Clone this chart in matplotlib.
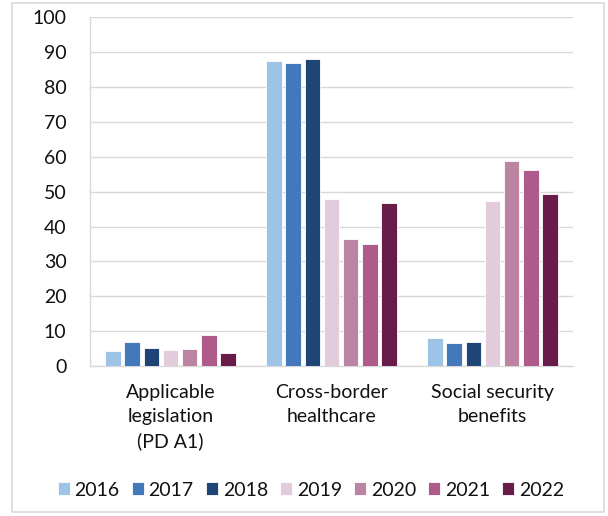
import matplotlib
matplotlib.use("Agg")
import matplotlib.pyplot as plt
from matplotlib.patches import Rectangle
import numpy as np

categories = ["Applicable\nlegislation\n(PD A1)", "Cross-border\nhealthcare", "Social security\nbenefits"]
years = ["2016", "2017", "2018", "2019", "2020", "2021", "2022"]
v2016 = [4.3, 87.6, 8.1]
v2017 = [6.8, 86.9, 6.6]
v2018 = [5.2, 87.9, 6.8]
v2019 = [4.7, 48.0, 47.2]
v2020 = [5.0, 36.4, 58.7]
v2021 = [8.9, 34.9, 56.2]
v2022 = [3.7, 46.8, 49.3]
series = [v2016, v2017, v2018, v2019, v2020, v2021, v2022]
colors = ["#9DC3E6", "#4379BB", "#1F4577", "#E2CCDC", "#BB84A3", "#AE5A8B", "#691B4A"]
yticks = [0, 10, 20, 30, 40, 50, 60, 70, 80, 90, 100]

plt.rcParams["font.family"] = ["Lato", "DejaVu Sans"]
FS = 14
txt_c = "#111111"
grid_c = "#D9D9D9"

fig = plt.figure(figsize=(6.08, 5.16), dpi=100)
ax = fig.add_axes([90 / 608, 1 - 366 / 516, 483 / 608, (366 - 17.3) / 516])

x = np.arange(len(categories))
step = 0.119
width = 0.097
for i, (vals, col, yr) in enumerate(zip(series, colors, years)):
    offs = (i - 3) * step
    ax.bar(x + offs, vals, width=width, color=col, edgecolor="white",
           linewidth=0.6, label=yr, zorder=3)

ax.set_xlim(-0.5, 2.5)
ax.set_ylim(0, 100)
ax.set_yticks(yticks)
ax.set_xticks(x)
ax.set_xticklabels(categories, fontsize=FS, color=txt_c, linespacing=1.5)
ax.tick_params(axis="y", length=0, pad=17, labelsize=FS, labelcolor=txt_c)
ax.tick_params(axis="x", length=0, pad=13)
ax.yaxis.grid(True, color=grid_c, linewidth=1.0, zorder=0)
ax.set_axisbelow(True)
for s in ["top", "right"]:
    ax.spines[s].set_visible(False)
ax.spines["left"].set_color(grid_c)
ax.spines["left"].set_linewidth(1.0)
ax.spines["bottom"].set_color(grid_c)
ax.spines["bottom"].set_linewidth(1.0)

fig.legend(loc="center", bbox_to_anchor=(311 / 608, 1 - 490 / 516), ncol=7,
           frameon=False, fontsize=FS, handlelength=0.62, handleheight=0.62,
           handletextpad=0.25, columnspacing=0.62, borderaxespad=0,
           labelcolor=txt_c)

fig.patches.append(Rectangle((12 / 608, 1 - 512 / 516), 592 / 608, 509 / 516,
                             transform=fig.transFigure, fill=False,
                             edgecolor=grid_c, linewidth=1.2))

fig.savefig("out.png", dpi=100)
